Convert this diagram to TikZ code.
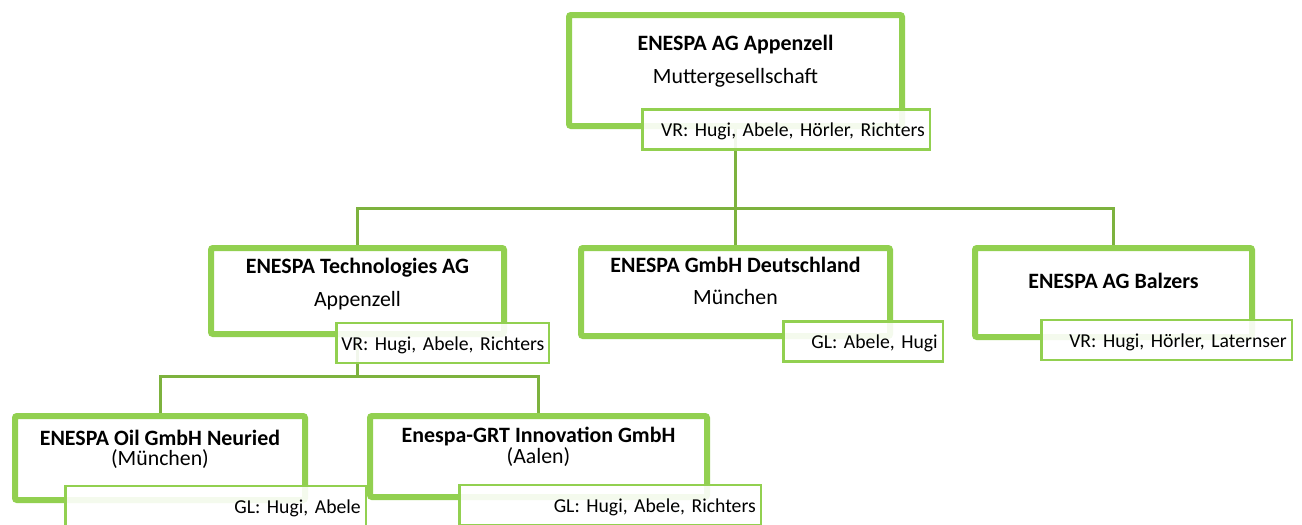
\documentclass[tikz,border=0pt]{standalone}
\usepackage{fontspec}
\setmainfont{Carlito}
\frenchspacing
\usetikzlibrary{calc}
\usetikzlibrary{backgrounds}
\definecolor{hellgruen}{RGB}{146,208,80}
\definecolor{liniengruen}{RGB}{125,178,62}
\tikzset{
	firma/.style={rectangle, draw=hellgruen, line width=6pt, rounded corners=2pt},
	gremium/.style={rectangle, draw=hellgruen, line width=2.5pt, fill=white, fill opacity=0.9, text opacity=1, align=right, inner xsep=5pt, minimum height=40pt, text height=16pt, text depth=2pt, font=\fontsize{19.7}{24}\selectfont},
	titel/.style={anchor=base, inner sep=0pt, font=\fontsize{21.9}{24}\selectfont\bfseries},
	ort/.style={anchor=base, inner sep=0pt, font=\fontsize{21.8}{24}\selectfont},
	linie/.style={draw=liniengruen, line width=3pt}
}

\begin{document}
\begin{tikzpicture}[x=1pt, y=-1pt]
\useasboundingbox (0,0) rectangle (1302,525);

% Muttergesellschaft
\node[firma, minimum width=333pt, minimum height=111pt] (mutter) at (735.5,70.5) {};
\node[titel] (muttertitel) at (735.5,50) {ENESPA AG Appenzell};
\node[ort] (mutterort) at (735.5,83) {Muttergesellschaft};
\node[gremium, text width=277.5pt] (muttervr) at (786,129.5) {\mbox{VR: Hugi, Abele, Hörler, Richters}};

% Toechter
\node[firma, minimum width=293pt, minimum height=86pt] (tech) at (357.5,291) {};
\node[titel] (techtitel) at (357.5,273) {ENESPA Technologies AG};
\node[ort] (techort) at (357.5,306) {Appenzell};
\node[gremium, text width=202.5pt] (techvr) at (442.5,343) {\mbox{VR: Hugi, Abele, Richters}};

\node[firma, minimum width=309pt, minimum height=88pt] (gmbh) at (735.5,292) {};
\node[titel] (gmbhtitel) at (735.5,272) {ENESPA GmbH Deutschland};
\node[ort] (gmbhort) at (735.5,304) {München};
\node[gremium, text width=149.5pt] (gmbhgl) at (863,341.5) {\mbox{GL: Abele, Hugi}};

\node[firma, minimum width=277pt, minimum height=89pt] (balzers) at (1113.5,292.5) {};
\node[titel] (balzerstitel) at (1113.5,288) {ENESPA AG Balzers};
\node[gremium, text width=240.5pt] (balzersvr) at (1166.5,340) {\mbox{VR: Hugi, Hörler, Laternser}};

% Enkel
\node[firma, minimum width=290pt, minimum height=84pt] (oil) at (160,458) {};
\node[titel] (oiltitel) at (160,445) {ENESPA Oil GmbH Neuried};
\node[ort] (oilort) at (160,465) {(München)};
\node[gremium, text width=290.5pt] (oilgl) at (215.5,506) {\mbox{GL: Hugi, Abele}};

\node[firma, minimum width=337pt, minimum height=81pt] (grt) at (538.5,456.5) {};
\node[titel] (grttitel) at (538.5,442) {Enespa-GRT Innovation GmbH};
\node[ort] (grtort) at (538.5,463) {(Aalen)};
\node[gremium, text width=291.5pt] (grtgl) at (610,505) {\mbox{GL: Hugi, Abele, Richters}};

\coordinate (verteiler) at (735.5,208);
\coordinate (verteilerzwei) at (357.5,376);

\begin{scope}[on background layer]
\draw [linie] (mutter.south) -- (verteiler);
\draw [linie] (verteiler) -| (tech.north);
\draw [linie] (verteiler) -- (gmbh.north);
\draw [linie] (verteiler) -| (balzers.north);
\draw [linie] (tech.south) -- (verteilerzwei);
\draw [linie] (verteilerzwei) -| (oil.north);
\draw [linie] (verteilerzwei) -| (grt.north);
\end{scope}

\end{tikzpicture}
\end{document}
